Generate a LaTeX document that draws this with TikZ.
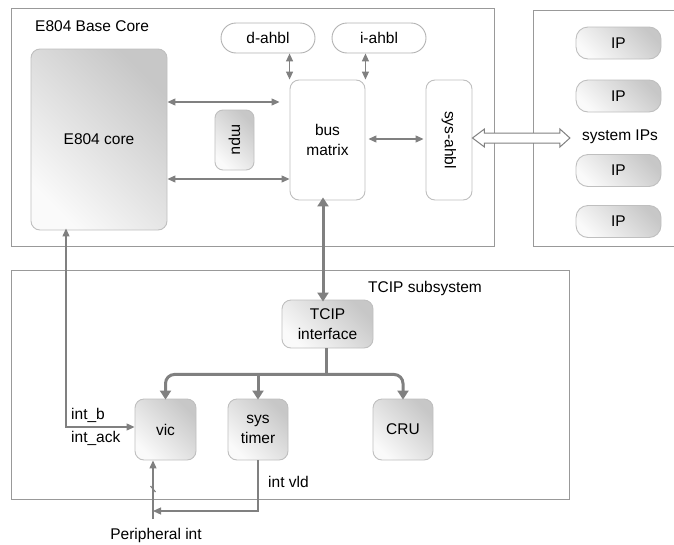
\documentclass[tikz,border=0pt]{standalone}
\usepackage{fontspec}
\setmainfont{Liberation Sans}
\usetikzlibrary{arrows.meta,calc}
\begin{document}
\begin{tikzpicture}[x=1pt,y=-1pt,
  font=\fontsize{15.5}{20}\selectfont,
  frame/.style={draw=black!40, line width=0.9pt},
  wbox/.style={draw=black!25, line width=0.9pt, fill=white, rounded corners=9pt, inner sep=0pt, align=center},
  gbox/.style={draw=black!25, line width=0.9pt, rounded corners=9pt, inner sep=0pt, align=center,
    top color=black!22, bottom color=black!2, shading angle=-45},
  pill/.style={draw=black!30, line width=0.9pt, fill=white, rounded corners=15pt, inner sep=0pt, minimum width=94pt, minimum height=30pt},
  ipbox/.style={gbox, rounded corners=12pt, minimum width=85pt, minimum height=32pt},
  conn/.style={draw=black!50, line width=1.2pt, >={Triangle[length=8pt,width=7pt]}},
  bigconn/.style={draw=black!50, line width=3pt, >={Triangle[length=9pt,width=11pt]}},
  txt/.style={inner sep=0pt}
]
\useasboundingbox (0,0) rectangle (674,544);

% frames
\draw[frame] (11,8) rectangle (494,246);
\draw[frame] (674,10) -| (533,246) -- (674,246);
\draw[frame] (11,270) rectangle (569,499);

\node[txt, anchor=west] (basecore) at (35,26) {E804 Base Core};
\node[txt, anchor=west] (tcipsub) at (368,288) {TCIP subsystem};

% base core blocks
\node[gbox, minimum width=136pt, minimum height=181pt] (core) at (99,139.5) {E804 core};
\node[pill] (dahbl) at (268,38) {d-ahbl};
\node[pill] (iahbl) at (379,38) {i-ahbl};
\node[wbox, minimum width=75pt, minimum height=120pt] (bus) at (327.5,140) {bus\\matrix};
\node[gbox, rounded corners=8pt, minimum width=39pt, minimum height=60pt] (mpu) at (234.5,140) {\rotatebox{-90}{mpu}};
\node[wbox, minimum width=46pt, minimum height=120pt] (sysahbl) at (449,140) {\rotatebox{-90}{sys-ahbl}};

% system IPs
\node[ipbox] (ip1) at (618.5,43) {IP};
\node[ipbox] (ip2) at (618.5,96) {IP};
\node[ipbox] (ip3) at (618.5,170.5) {IP};
\node[ipbox] (ip4) at (618.5,221.5) {IP};
\node[txt] (sysips) at (620,137) {system IPs};

% TCIP subsystem blocks
\node[gbox, minimum width=91pt, minimum height=48pt] (tcip) at (327.5,324) {TCIP\\interface};
\node[gbox, minimum width=61pt, minimum height=61pt] (vic) at (165.5,429.5) {vic};
\node[gbox, minimum width=60pt, minimum height=61pt] (timer) at (258,429.5) {sys\\timer};
\node[gbox, minimum width=60pt, minimum height=61pt] (cru) at (403,429.5) {CRU};

% thin connectors
\draw[conn,<->] (core.east |- 0,102) -- ([xshift=-10pt]bus.west |- 0,102);
\draw[conn,<->] (core.east |- 0,179) -- (bus.west |- 0,179);
\draw[conn,<->] (dahbl.south -| bus.north west) -- (bus.north west);
\draw[conn,<->] (iahbl.south -| bus.north east) -- (bus.north east);
\draw[conn,<->] ([xshift=3pt]bus.east |- 0,139) -- ([xshift=-2pt]sysahbl.west |- 0,139);

% hollow double arrow
\coordinate (ha) at (sysahbl.east |- 0,138);
\coordinate (hb) at ($(sysips.west)+(-12,1)$);
\filldraw[fill=white, draw=black!50, line width=1pt]
  (ha) -- ($(ha)+(12,-9)$) -- ($(ha)+(12,-5)$) -- ($(hb)+(-10,-5)$) -- ($(hb)+(-10,-9)$)
  -- (hb) -- ($(hb)+(-10,9)$) -- ($(hb)+(-10,5)$) -- ($(ha)+(12,5)$) -- ($(ha)+(12,9)$) -- cycle;

% bus matrix <-> TCIP interface
\draw[bigconn,<->] ([yshift=3pt]bus.south -| 323,0) -- ([yshift=-2pt]tcip.north -| 323,0);

% TCIP tree
\coordinate (junc) at ($(tcip.south)+(-1.5,26)$);
\draw[bigconn] (tcip.south -| junc) -- (junc);
\draw[bigconn,->,rounded corners=9pt] (junc) -| ([yshift=-1pt]vic.north);
\draw[bigconn,->,rounded corners=9pt] (junc) -| ([yshift=-1pt]cru.north);
\draw[bigconn,->] (junc -| timer.north) -- ([yshift=-1pt]timer.north);

% interrupt lines
\coordinate (intcorner) at (66,427);
\draw[conn,<->] ([yshift=2pt]core.south -| intcorner) |- (vic.west |- intcorner);
\node[txt, anchor=west] (intb) at (71,415) {int\_b};
\node[txt, anchor=west] (intack) at (71,438) {int\_ack};

\coordinate (pin) at (153,519);
\draw[conn,->] (pin) -- (pin |- vic.south);
\draw[conn] ($(pin)+(-2.5,-33)$) -- ++(5,6);
\draw[conn,->] (timer.south) |- (pin |- 0,511);
\node[txt, anchor=west] (intvld) at (268,482) {int vld};
\node[txt] (perint) at (156,535) {Peripheral int};
\end{tikzpicture}
\end{document}
